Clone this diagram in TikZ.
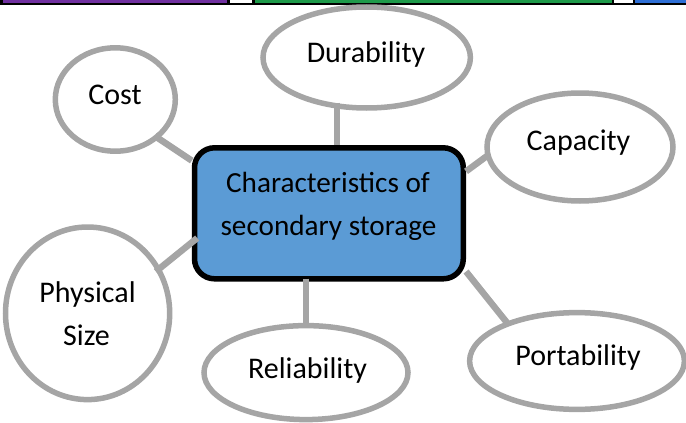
\documentclass[tikz,border=0pt]{standalone}
\usepackage{fontspec}
\setmainfont{Carlito}
\usetikzlibrary{shapes.geometric}
\definecolor{ovalgray}{HTML}{A5A5A5}
\definecolor{boxblue}{HTML}{5B9BD5}
\definecolor{barpurple}{HTML}{7030A0}
\definecolor{bargreen}{HTML}{1E9A4A}
\definecolor{barblue}{HTML}{2E6FD6}
\tikzset{
  oval/.style={ellipse, draw=ovalgray, line width=5.5pt, fill=white, inner sep=0pt},
  mainbox/.style={rectangle, rounded corners=20pt, draw=black, line width=5.5pt, fill=boxblue, inner sep=0pt, minimum width=268.8pt, minimum height=131pt},
  lbl/.style={anchor=base, inner sep=0pt, font=\fontsize{30}{36}\selectfont},
  boxlbl/.style={anchor=base, inner sep=0pt, font=\fontsize{29.2}{36}\selectfont},
  conn/.style={draw=ovalgray, line width=6.5pt}
}
\begin{document}
\begin{tikzpicture}[x=1pt,y=-1pt]
\useasboundingbox (0,0) rectangle (686,423);
% top strip
\fill[black] (0,0) rectangle (686,5);
\fill[barpurple] (3,0) rectangle (227,3);
\fill[white] (230,0) rectangle (252,3);
\fill[bargreen] (255,0) rectangle (612,3);
\fill[white] (614,0) rectangle (633,3);
\fill[barblue] (635,0) rectangle (686,3);
% ellipses
\node[oval, minimum width=120pt, minimum height=103.4pt] (cost) at (115.3,99.5) {};
\node[oval, minimum width=207.4pt, minimum height=101pt] (dur) at (366.7,57.5) {};
\node[oval, minimum width=186pt, minimum height=108pt] (cap) at (580,147) {};
\node[oval, minimum width=164.2pt, minimum height=172.6pt] (phys) at (87.6,313.3) {};
\node[oval, minimum width=204pt, minimum height=94pt] (rel) at (306,372.6) {};
\node[oval, minimum width=214.8pt, minimum height=96.8pt] (port) at (577,361) {};
% central box
\node[mainbox] (box) at (328.9,213.3) {};
% connectors
\draw[conn, shorten >=-5pt] (box.159) -- (cost.-42);
\draw[conn, shorten <=-6pt] (dur.240) -- (dur.240 |- box.north);
\draw[conn, shorten >=-3pt] (box.17.6) -- (cap.186);
\draw[conn, shorten >=-6pt, shorten <=-7pt] (box.192.7) -- (phys.32);
\draw[conn, shorten >=-2pt, shorten <=-3pt] (rel.north |- box.south) -- (rel.north);
\draw[conn, shorten >=-3pt] (box.-23.5) -- (port.151.2);
% labels
\node[lbl] (costt) at (115,104) {Cost};
\node[lbl] (durt) at (366,62) {Durability};
\node[lbl] (capt) at (578.5,150) {Capacity};
\node[lbl] (physt) at (87.5,302) {Physical};
\node[lbl] (sizet) at (86.5,345) {Size};
\node[lbl] (relt) at (307.5,378) {Reliability};
\node[lbl] (portt) at (578,365) {Portability};
\node[boxlbl] (boxt1) at (328,192) {Characteristics of};
\node[boxlbl] (boxt2) at (328.5,235) {secondary storage};
\end{tikzpicture}
\end{document}
